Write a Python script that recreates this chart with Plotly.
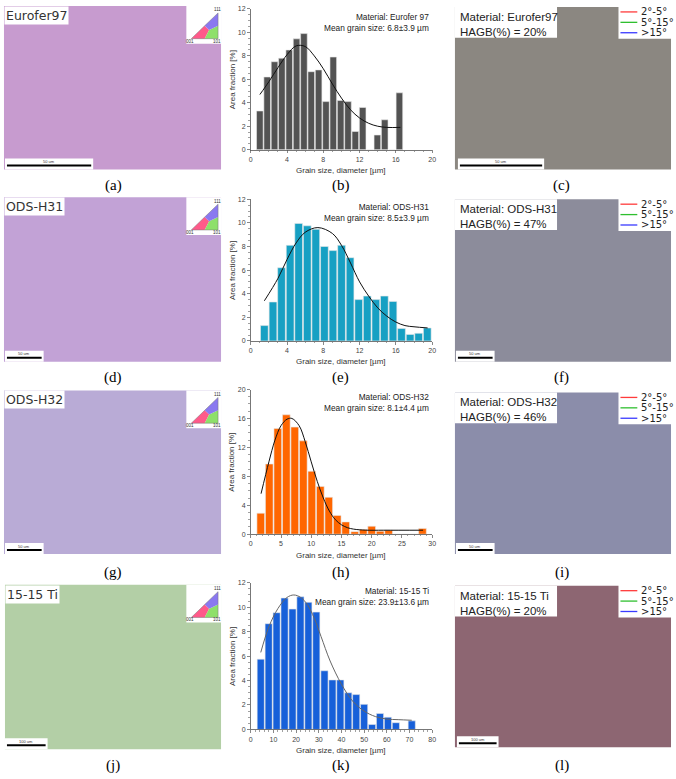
import plotly.graph_objects as go

W, H = 676, 779

# ---------------- data ----------------
b_x = [1.0, 1.81, 2.62, 3.43, 4.24, 5.05, 5.86, 6.67, 7.48, 8.29, 9.10, 9.91, 10.72, 11.53, 12.34, 13.15, 13.96, 14.77, 15.58, 16.39]
b_y = [3.3, 6.2, 7.5, 7.8, 8.5, 9.45, 9.9, 6.65, 6.8, 4.1, 7.9, 4.2, 4.1, 1.55, 3.6, 0, 1.25, 2.55, 0, 4.85]
b_fit_x = [1.0, 2, 3, 4, 5, 6, 7, 8, 9, 10, 11, 12, 13, 14, 15, 16.5]
b_fit_y = [4.7, 5.8, 7.0, 8.1, 8.85, 8.8, 8.0, 6.9, 5.6, 4.4, 3.4, 2.7, 2.25, 2.0, 1.9, 1.9]

e_x = [1.5, 2.45, 3.39, 4.34, 5.28, 6.23, 7.17, 8.12, 9.06, 10.01, 10.95, 11.9, 12.84, 13.79, 14.73, 15.68, 16.62, 17.57, 18.51, 19.46]
e_y = [1.3, 3.3, 6.2, 8.1, 9.95, 9.75, 9.45, 8.0, 7.65, 8.1, 7.05, 3.5, 3.8, 3.5, 3.8, 3.35, 1.05, 0.55, 0.65, 1.1]
e_fit_x = [1.5, 3, 4, 5, 6, 7.4, 9, 10, 11, 12, 13, 14, 15, 16, 17, 18, 19.5]
e_fit_y = [3.4, 5.3, 6.9, 8.3, 9.2, 9.6, 9.1, 8.1, 6.6, 5.0, 3.8, 2.8, 2.1, 1.6, 1.3, 1.2, 1.1]

h_x = [1.65, 3.06, 4.47, 5.88, 7.28, 8.69, 10.1, 11.5, 12.9, 14.3, 15.7, 17.2, 18.6, 20.0, 21.4, 22.8, 24.2, 25.6, 27.0, 28.4]
h_y = [2.9, 9.7, 14.6, 16.5, 14.8, 12.9, 8.7, 6.6, 5.1, 2.6, 1.7, 0.35, 0.65, 1.1, 0.4, 0.55, 0, 0, 0, 0.8]
h_fit_x = [1.7, 3, 4, 5, 6, 6.8, 8, 9, 10, 11, 12, 13, 14, 15, 16, 17, 19, 22, 28.5]
h_fit_y = [5.6, 10.0, 13.0, 15.0, 15.9, 16.0, 15.0, 12.8, 10.0, 7.3, 5.0, 3.2, 2.0, 1.3, 0.9, 0.7, 0.56, 0.55, 0.55]

k_x = [4.4, 7.9, 11.4, 14.9, 18.4, 21.9, 25.4, 28.9, 32.5, 36.0, 39.5, 43.0, 46.5, 50.0, 53.5, 57.0, 60.5, 64.0, 67.5, 71.0]
k_y = [5.75, 8.65, 9.55, 10.75, 9.85, 10.85, 10.4, 9.6, 4.8, 4.05, 4.05, 3.0, 2.85, 2.05, 0.4, 1.3, 1.0, 0.55, 0, 0.7]
k_fit_x = [4.4, 8, 12, 16, 19, 22, 25, 28, 31, 35, 40, 45, 50, 55, 60, 65, 71]
k_fit_y = [6.3, 8.4, 9.9, 10.8, 11.0, 10.8, 10.2, 9.1, 7.6, 5.6, 3.7, 2.3, 1.5, 1.05, 0.85, 0.8, 0.75]

materials = ["Eurofer97", "ODS-H31", "ODS-H32", "15-15 Ti"]
hist_materials = ["Eurofer 97", "ODS-H31", "ODS-H32", "15-15 Ti"]
mean_sizes = ["6.8±3.9 µm", "8.5±3.9 µm", "8.1±4.4 µm", "23.9±13.6 µm"]
hagb = ["20%", "47%", "46%", "20%"]
scale_labels = ["50 um", "50 um", "50 um", "100 um"]
captions = [["(a)", "(b)", "(c)"], ["(d)", "(e)", "(f)"], ["(g)", "(h)", "(i)"], ["(j)", "(k)", "(l)"]]
lagb_labels = ["2°-5°", "5°-15°", ">15°"]

x_ranges = [[0, 20], [0, 20], [0, 30], [0, 80]]
x_dticks = [4, 4, 5, 10]
y_ranges = [[0, 12], [0, 12], [0, 20], [0, 12]]
y_dticks = [2, 2, 4, 2]
bar_colors = ["#535353", "#17a0c3", "#ff6600", "#1760d9"]
fit_colors = ["#111111", "#111111", "#111111", "#666666"]

hists = [(b_x, b_y, b_fit_x, b_fit_y), (e_x, e_y, e_fit_x, e_fit_y),
         (h_x, h_y, h_fit_x, h_fit_y), (k_x, k_y, k_fit_x, k_fit_y)]

# ---------------- layout geometry (pixels) ----------------
def px(x):
    return x / W

def py(y):
    return 1 - y / H

hist_left, hist_right = 251, 434
hist_top = [5, 197, 389, 584]
hist_bot = [147, 340, 535, 732]
xlabel_y = [168, 361, 556, 753]
cap_y = [183, 377, 574, 768]

img1 = [(2, 2, 221, 167), (2, 195, 221, 361), (2, 390, 221, 555), (3, 586, 221, 752)]
img3 = [(457, 3, 675, 167), (457, 197, 675, 361), (457, 392, 675, 555), (457, 587, 675, 750)]
img1_fill = ["#c79bcf", "#c2a2d6", "#b9abd6", "#b3cfa6"]
img3_fill = ["#8b8781", "#8c8c9b", "#8b8daa", "#8d6672"]
bar1 = [(5, 90), (5, 40), (5, 40), (5, 44)]
bar3 = [(462, 545), (460, 495), (460, 495), (461, 499)]

fig = go.Figure()
shapes = []
annotations = []
FONT = "Liberation Sans"


def ann(x, y, text, size, color="#222", family=FONT, xanchor="center", yanchor="middle", **kw):
    annotations.append(dict(x=px(x), y=py(y), xref="paper", yref="paper", text=text, showarrow=False,
                            xanchor=xanchor, yanchor=yanchor, font=dict(size=size, color=color, family=family), **kw))


def rect(x0, y0, x1, y1, color, layer="above", line=None):
    shapes.append(dict(type="rect", xref="paper", yref="paper", x0=px(x0), x1=px(x1), y0=py(y1), y1=py(y0),
                       fillcolor=color, line=line or dict(width=0), layer=layer))


def poly(pts, color, line=None):
    path = "M " + " L ".join(f"{px(a)} {py(b)}" for a, b in pts) + " Z"
    shapes.append(dict(type="path", xref="paper", yref="paper", path=path, fillcolor=color,
                       line=line or dict(width=0)))


for i in range(4):
    xs, ys, fx, fy = hists[i]
    xa = "x" if i == 0 else f"x{i+1}"
    ya = "y" if i == 0 else f"y{i+1}"
    step = (xs[-1] - xs[0]) / (len(xs) - 1)
    fig.add_trace(go.Bar(x=xs, y=ys, width=step * 0.9, marker=dict(color=bar_colors[i], line=dict(color="#e8e8e8", width=0.6)),
                         xaxis=xa, yaxis=ya, showlegend=False, hoverinfo="skip"))
    fig.add_trace(go.Scatter(x=fx, y=fy, mode="lines", line=dict(color=fit_colors[i], width=1, shape="spline", smoothing=1.0),
                             xaxis=xa, yaxis=ya, showlegend=False, hoverinfo="skip"))
    axis_common = dict(showline=True, linecolor="#555", linewidth=0.8, ticks="outside", ticklen=3, tickwidth=0.7,
                       tickcolor="#555", tickfont=dict(size=7, color="#444", family=FONT), showgrid=False, zeroline=False,
                       minor=dict(ticks="outside", ticklen=1.5, tickcolor="#777", showgrid=False), fixedrange=True)
    fig.layout[f"xaxis{'' if i == 0 else i+1}"] = dict(axis_common, domain=[px(hist_left), px(hist_right)], range=x_ranges[i],
                                                        dtick=x_dticks[i], tick0=0, anchor=ya)
    fig.layout[f"yaxis{'' if i == 0 else i+1}"] = dict(axis_common, domain=[py(hist_bot[i]), py(hist_top[i])], range=y_ranges[i],
                                                        dtick=y_dticks[i], tick0=0, anchor=xa)
    # axis titles and in-plot note
    ann((hist_left + hist_right) / 2, xlabel_y[i], "Grain size, diameter [µm]", 8, "#333")
    ann(232, (hist_top[i] + hist_bot[i]) / 2, "Area fraction [%]", 8, "#333", textangle=-90)
    ann(433, hist_top[i] + 1, f"Material: {hist_materials[i]}<br>Mean grain size: {mean_sizes[i]}", 8.3,
        xanchor="right", yanchor="top", align="right")

    # captions
    for j, cx in enumerate([112, 342, 565]):
        ann(cx, cap_y[i], captions[i][j], 15, "black", "Liberation Serif")

    # --- column 1 map panel ---
    x0, y0, x1, y1 = img1[i]
    rect(x0, y0, x1, y1, img1_fill[i], layer="below")
    ann(x0, y0, materials[i], 12.5, "#333", "DejaVu Sans", xanchor="left", yanchor="top", bgcolor="white", borderpad=1)
    # IPF triangle key (001 bottom-left red, 101 bottom-right green, 111 top-right blue)
    tx0, tx1, ty0, ty1 = x1 - 30, x1 - 3, y0 + 7, y0 + 33
    rect(tx0 - 5, y0, x1, ty1 + 5, "white")
    cxm, cym = (tx0 + 2 * tx1) / 3, (ty0 + 2 * ty1) / 3
    m_bot = ((tx0 + tx1) / 2, ty1)
    m_hyp = ((tx0 + tx1) / 2, (ty0 + ty1) / 2)
    m_right = (tx1, (ty0 + ty1) / 2)
    poly([(tx0, ty1), m_bot, (cxm, cym), m_hyp], "#ff5a8a")
    poly([(tx1, ty1), m_right, (cxm, cym), m_bot], "#8ee06a")
    poly([(tx1, ty0), m_hyp, (cxm, cym), m_right], "#8a78f0")
    poly([(tx0, ty1), (tx1, ty1), (tx1, ty0)], "rgba(0,0,0,0)", line=dict(color="#777", width=0.5))
    ann(tx1 - 1, ty0 - 3, "111", 4.5, "#333")
    ann(tx0 - 1, ty1 + 2.5, "001", 4.5, "#333")
    ann(tx1 - 1, ty1 + 2.5, "101", 4.5, "#333")
    # scale bar
    sb0, sb1 = bar1[i]
    rect(sb0 - 2, y1 - 11, sb1 + 2, y1, "white")
    rect(sb0, y1 - 5, sb1, y1 - 3, "black")
    ann((sb0 + sb1) / 2, y1 - 8, scale_labels[i], 4, "#333")

    # --- column 3 boundary map panel ---
    x0, y0, x1, y1 = img3[i]
    rect(x0, y0, x1, y1, img3_fill[i], layer="below")
    rect(x0, y0, 560, y0 + 31, "white")
    ann(x0 + 3, y0 + 2, f"Material: {materials[i]}<br>HAGB(%) = {hagb[i]}", 11.5, xanchor="left", yanchor="top", align="left")
    rect(622, max(y0 - 3, 0), 676, y0 + 32, "white")
    for k, (lab, col) in enumerate(zip(lagb_labels, ["#ff3b3b", "#2fbf2f", "#3a3aff"])):
        ly = y0 + 5 + k * 10.5
        shapes.append(dict(type="line", xref="paper", yref="paper", x0=px(624), x1=px(641), y0=py(ly), y1=py(ly),
                           line=dict(color=col, width=1.3)))
        ann(643, ly, lab, 10, "#222", "DejaVu Sans", xanchor="left")
    sb0, sb1 = bar3[i]
    rect(sb0 - 2, y1 - 11, sb1 + 2, y1, "white")
    rect(sb0, y1 - 5, sb1, y1 - 3, "black")
    ann((sb0 + sb1) / 2, y1 - 8, scale_labels[i], 4, "#333")

fig.update_layout(width=W, height=H, margin=dict(l=0, r=0, t=0, b=0, pad=0), paper_bgcolor="white", plot_bgcolor="white",
                  shapes=shapes, annotations=annotations, bargap=0, font=dict(family=FONT))
fig.write_html("out.html", config={"displayModeBar": False, "staticPlot": True},
               post_script="document.body.style.margin='0px';document.body.style.overflow='hidden';")
